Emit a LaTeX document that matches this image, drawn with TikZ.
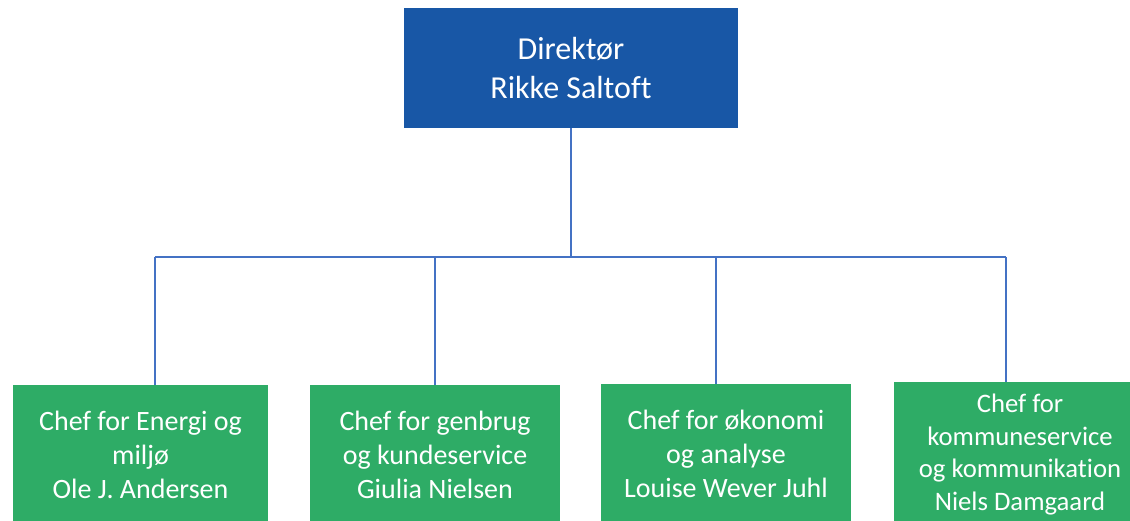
\documentclass[tikz,border=0pt]{standalone}
\usepackage{fontspec}
\setmainfont{Carlito}[Ligatures=NoCommon]
\definecolor{topblue}{RGB}{24,87,166}
\definecolor{boxgreen}{RGB}{46,172,102}
\definecolor{linkblue}{RGB}{68,114,196}
\begin{document}
\begin{tikzpicture}[x=1pt,y=-1pt,
  orgbox/.style={rectangle, inner sep=0pt, text=white, align=center, anchor=center},
  topbox/.style={orgbox, fill=topblue, font=\fontsize{32}{39}\selectfont},
  chefbox/.style={orgbox, fill=boxgreen, font=\fontsize{28}{34}\selectfont},
  link/.style={draw=linkblue, line width=1.2pt}]
\useasboundingbox (0,0) rectangle (1130,520);
\node[topbox, minimum width=334pt, minimum height=120pt] (top) at (571,68) {Direktør\\Rikke Saltoft};
\node[chefbox, minimum width=255pt, minimum height=140pt] (b1) at (140.5,455) {Chef for Energi og\\miljø\\Ole J. Andersen};
\node[chefbox, minimum width=250pt, minimum height=140pt] (b2) at (435,455) {Chef for genbrug\\og kundeservice\\Giulia Nielsen};
\node[chefbox, minimum width=250pt, minimum height=140pt] (b3) at (726,454) {Chef for økonomi\\og analyse\\Louise Wever Juhl};
\node[chefbox, minimum width=252pt, minimum height=145pt, font=\fontsize{26.7}{32.5}\selectfont] (b4) at (1020,454.5) {Chef for\\kommuneservice\\og kommunikation\\Niels Damgaard};
\coordinate (h1) at (155,257);
\coordinate (h2) at (435,257);
\coordinate (h3) at (716,257);
\coordinate (h4) at (1006,257);
\draw[link] (top.south) -- (top.south |- h1);
\draw[link] (h1) -- (h4);
\draw[link] (h1) -- (h1 |- b1.north);
\draw[link] (h2) -- (h2 |- b2.north);
\draw[link] (h3) -- (h3 |- b3.north);
\draw[link] (h4) -- (h4 |- b4.north);
\end{tikzpicture}
\end{document}
